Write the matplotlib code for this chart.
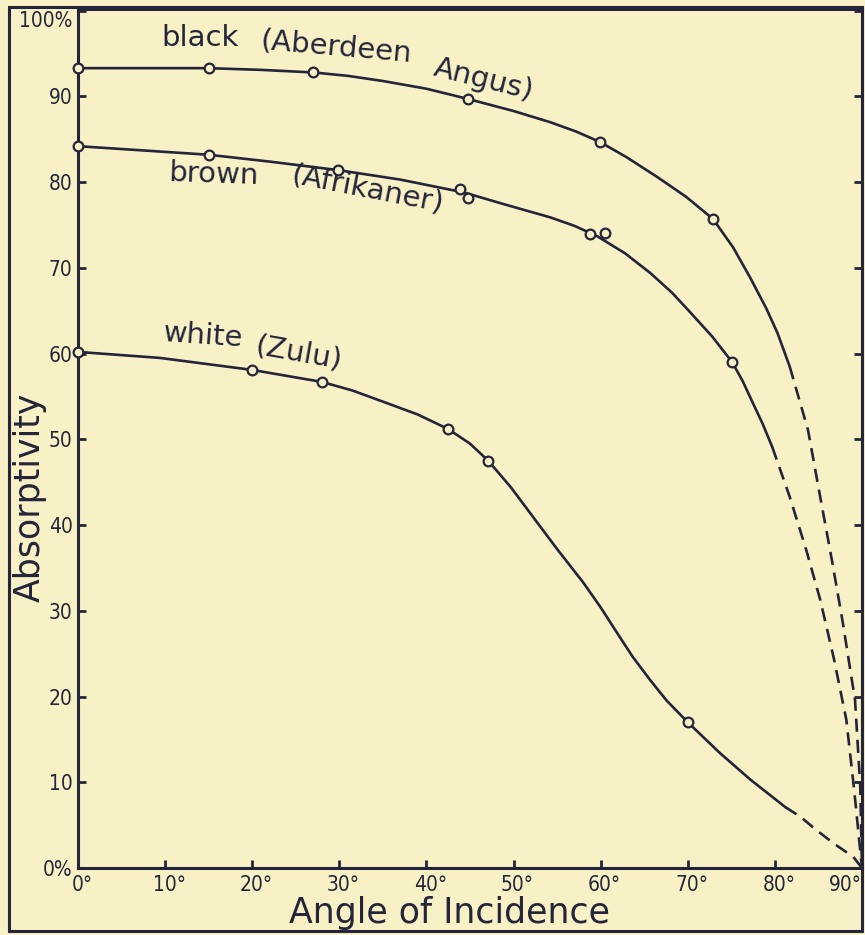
import matplotlib.pyplot as plt
from matplotlib.patches import Rectangle
from matplotlib.transforms import ScaledTranslation

# --- data ---
# angle of incidence (degrees) vs absorptivity (%)

# black (Aberdeen Angus)
black_pts_x = [0, 15, 27, 44.8, 59.9, 72.9]
black_pts_y = [93.3, 93.3, 92.8, 89.7, 84.7, 75.7]
black_curve_x = [0, 15, 21, 27, 31, 35, 40, 44.8, 50, 54.2, 57.2, 59.9, 63, 66.5, 69.8, 72.9,
                 75.2, 77.2, 79, 80.3, 81.7]
black_curve_y = [93.3, 93.3, 93.1, 92.8, 92.4, 91.8, 90.9, 89.7, 88.3, 87.0, 85.9, 84.7, 82.9, 80.6,
                 78.3, 75.7, 72.4, 68.8, 65.3, 62.4, 58.5]
black_dash_x = [81.7, 83.8, 85.2, 86.6, 87.8, 89.2, 89.8, 90]
black_dash_y = [58.5, 51.1, 43.3, 35.6, 28.6, 19.6, 9.5, 0]

# brown (Afrikaner)
brown_pts_x = [0, 15, 29.9, 43.9, 44.8, 58.8, 60.5, 75.1]
brown_pts_y = [84.2, 83.2, 81.4, 79.2, 78.1, 74.0, 74.1, 59.0]
brown_curve_x = [0, 15, 22, 29.9, 37, 44.3, 49, 54.2, 57, 59.6, 62.8, 65.7, 68.2, 70.3, 72.8, 75.1,
                 76.3, 77.4, 78.6, 79.7]
brown_curve_y = [84.2, 83.2, 82.4, 81.4, 80.3, 78.8, 77.4, 75.9, 74.9, 73.7, 71.7, 69.4, 67.1, 64.8,
                 62.0, 59.0, 56.8, 54.4, 51.8, 49.1]
brown_dash_x = [79.7, 81.7, 83.6, 85.2, 86.8, 88.2, 89.1, 90]
brown_dash_y = [49.1, 43.3, 37.1, 31.3, 24.3, 17.3, 9.1, 0]

# white (Zulu)
white_pts_x = [0, 20.0, 28.0, 42.5, 47.1, 70.0]
white_pts_y = [60.2, 58.1, 56.7, 51.2, 47.5, 17.0]
white_curve_x = [0, 9.4, 20.0, 28.0, 31.5, 35.0, 39.0, 42.5, 45.0, 47.1, 49.7, 52.2, 55.0, 58.0,
                 60.0, 61.9, 63.7, 65.7, 67.6, 70.0, 73.7, 77.2, 81.2]
white_curve_y = [60.2, 59.5, 58.1, 56.7, 55.7, 54.4, 52.9, 51.2, 49.5, 47.5, 44.4, 41.0, 37.2, 33.3,
                 30.4, 27.4, 24.6, 21.9, 19.5, 17.0, 13.4, 10.3, 7.1]
white_dash_x = [81.2, 82.9, 84.8, 86.7, 89.0, 90]
white_dash_y = [7.1, 6.0, 4.4, 2.9, 1.3, 0]

x_ticks = list(range(0, 91, 10))
x_tick_labels = [f"{a}°" for a in x_ticks]
y_ticks = list(range(0, 101, 10))
y_tick_labels = ["0%"] + [str(v) for v in y_ticks[1:-1]] + ["100%"]

PAPER = "#F8F1C6"
INK = "#24243a"


def draw_series(ax, cx, cy, dx, dy, px, py):
    """Solid measured curve, dashed extrapolation and open circle points."""
    ax.plot(cx, cy, color=INK, lw=1.9, solid_joinstyle="round", solid_capstyle="round", zorder=3)
    ax.plot(dx, dy, color=INK, lw=1.9, dashes=(5, 3), zorder=3)
    ax.plot(px, py, "o", ms=7, mfc=PAPER, mec=INK, mew=1.6, zorder=4, clip_on=False)


fig = plt.figure(figsize=(8.65, 9.35), dpi=100, facecolor=PAPER)
ax = fig.add_axes([78 / 865, 1 - 868 / 935, 784 / 865, 859 / 935], facecolor=PAPER)

draw_series(ax, black_curve_x, black_curve_y, black_dash_x, black_dash_y, black_pts_x, black_pts_y)
draw_series(ax, brown_curve_x, brown_curve_y, brown_dash_x, brown_dash_y, brown_pts_x, brown_pts_y)
draw_series(ax, white_curve_x, white_curve_y, white_dash_x, white_dash_y, white_pts_x, white_pts_y)

ax.set_xlim(0, 90)
ax.set_ylim(0, 100.2)

# hand lettered labels following the curves
lab = dict(color=INK, fontsize=21, ha="center", va="center", family="DejaVu Sans")
ax.text(14.0, 96.8, "black", rotation=0, **lab)
ax.text(29.6, 95.8, "(Aberdeen", rotation=-5, **lab)
ax.text(46.6, 91.9, "Angus)", rotation=-14, **lab)
ax.text(15.6, 80.9, "brown", rotation=-2, **lab)
ax.text(33.2, 79.2, "(Afrikaner)", rotation=-11, **lab)
ax.text(14.4, 62.1, "white", rotation=-4, **lab)
ax.text(25.3, 60.0, "(Zulu)", rotation=-10, **lab)

# axes, ticks
for side in ["left", "bottom", "right", "top"]:
    ax.spines[side].set_linewidth(2.2)
    ax.spines[side].set_color(INK)

tick_font = dict(family="DejaVu Sans", stretch="condensed", fontsize=15, color=INK)
ax.set_xticks(x_ticks)
ax.set_xticklabels(x_tick_labels, **tick_font)
ax.set_yticks(y_ticks)
ax.set_yticklabels(y_tick_labels, **tick_font)
ax.tick_params(direction="in", length=6, width=2, color=INK, right=True, top=False)
ax.tick_params(axis="x", pad=5)
ax.tick_params(axis="y", pad=4)

# digits centred on the tick, degree sign hanging to the right
xlabels = ax.get_xticklabels()
for lbl in xlabels[:-1]:
    lbl.set_transform(lbl.get_transform() + ScaledTranslation(0.04, 0, fig.dpi_scale_trans))
xlabels[-1].set_ha("right")
ylabels = ax.get_yticklabels()
ylabels[-1].set_va("top")

fig.text(450 / 865, 1 - 913 / 935, "Angle of Incidence", fontsize=25,
         ha="center", va="center", color=INK, family="DejaVu Sans")
fig.text(30 / 865, 1 - 497 / 935, "Absorptivity", fontsize=25, rotation=90,
         ha="center", va="center", color=INK, family="DejaVu Sans")

# outer frame of the printed figure
fig.patches.append(Rectangle((9 / 865, 4 / 935), 853 / 865, 924 / 935, transform=fig.transFigure,
                             fill=False, lw=2.2, edgecolor=INK, zorder=0))

fig.savefig("out.png", dpi=100, facecolor=PAPER)
